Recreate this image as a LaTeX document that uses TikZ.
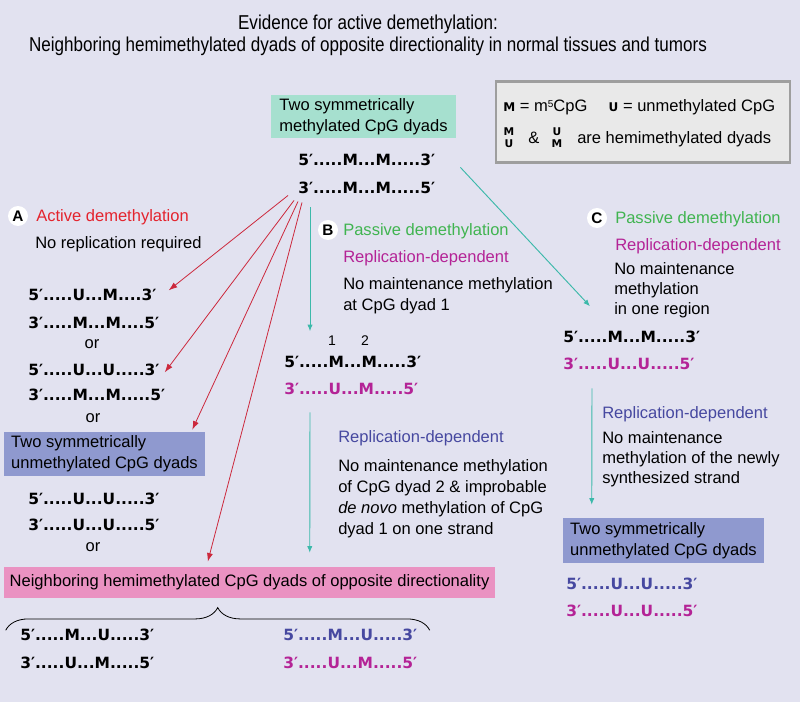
\documentclass[tikz,border=0pt]{standalone}
\usepackage{fontspec}
\setmainfont{Liberation Sans}
\newfontfamily\seqfont{DejaVu Sans}
\newfontfamily\titlefont{Liberation Sans}[FakeStretch=0.85]
\usetikzlibrary{arrows.meta,calc,decorations.pathreplacing}
\tikzset{inner sep=0pt}

\definecolor{bglav}{RGB}{226,226,240}
\definecolor{boxteal}{RGB}{166,224,207}
\definecolor{boxblue}{RGB}{143,153,207}
\definecolor{boxpink}{RGB}{234,146,194}
\definecolor{actred}{RGB}{228,35,45}
\definecolor{arrred}{RGB}{204,40,60}
\definecolor{pasgreen}{RGB}{64,180,80}
\definecolor{repmag}{RGB}{180,35,150}
\definecolor{repblue}{RGB}{70,72,160}
\definecolor{arrteal}{RGB}{60,185,170}
\definecolor{legfill}{RGB}{233,233,233}

\newcommand\legletter{\seqfont\bfseries\fontsize{9}{10}\selectfont}
\newcommand\supfive{\raisebox{0.55ex}{\fontsize{7.5}{8}\selectfont 5}}

\begin{document}
\begin{tikzpicture}[x=0.75pt,y=-0.75pt,
    txt/.style={font=\fontsize{12.4}{15.75}\selectfont, anchor=base west},
    para/.style={font=\fontsize{12.4}{15.75}\selectfont, align=left, anchor=north west},
    seq/.style={font=\seqfont\bfseries\fontsize{11.6}{14}\selectfont, anchor=base west},
    stack/.style={font=\seqfont\bfseries\fontsize{8}{9}\selectfont, align=center},
    letter/.style={circle, fill=white, minimum size=15pt, font=\bfseries\fontsize{11.5}{12}\selectfont},
    dyadbox/.style={align=left, font=\fontsize{12.4}{15.75}\selectfont},
    legendbox/.style={fill=legfill, draw=black!38, line width=2pt},
    redarrow/.style={draw=arrred, line width=0.6pt, -{Latex[length=6.5pt,width=4.5pt]}},
    tealarrow/.style={draw=arrteal, line width=0.7pt, -{Latex[length=5pt,width=4pt]}}]
    \useasboundingbox (0,0) rectangle (800,702);
    \fill[bglav] (0,0) rectangle (800,702);

    % heading and key
    \node[font=\titlefont\fontsize{15.05}{16.5}\selectfont, align=center] (title) at (368,35)
        {Evidence for active demethylation:\\Neighboring hemimethylated dyads of opposite directionality in normal tissues and tumors};
    \node[legendbox, minimum width=220.5pt, minimum height=60.75pt] (legend) at (643,122) {};
    \node[txt] (legrow) at (503,112) {{\legletter M} = m\supfive CpG\hspace{16pt}{\legletter U} = unmethylated CpG};
    \node[stack] (legMU) at (509,138) {M\\U};
    \node[txt] (legamp) at (528,144) {\&};
    \node[stack] (legUM) at (557,138) {U\\M};
    \node[txt] (leghemi) at (577,144) {are hemimethylated dyads};

    % starting dyads
    \node[dyadbox, fill=boxteal, minimum width=138.75pt, minimum height=32.25pt] (topbox) at (363.5,116.5)
        {Two symmetrically\\methylated CpG dyads};
    \node[seq] (topfive) at (298,166) {5′.....M...M.....3′};
    \node[seq] (topthree) at (298,194) {3′.....M...M.....5′};

    % A: active
    \node[letter] (labA) at (18,216) {A};
    \node[txt, text=actred] (headA) at (36,222) {Active demethylation};
    \node[txt] (noteA) at (35,249) {No replication required};
    \node[seq] (rowAa5) at (28,301) {5′.....U...M....3′};
    \node[seq] (rowAa3) at (28,329) {3′.....M...M....5′};
    \node[txt, anchor=base] (orA1) at (92,349) {or};
    \node[seq] (rowAb5) at (28,375) {5′.....U...U.....3′};
    \node[seq] (rowAb3) at (28,401) {3′.....M...M.....5′};
    \node[txt, anchor=base] (orA2) at (93,422) {or};
    \node[dyadbox, fill=boxblue, minimum width=150.75pt, minimum height=33pt] (boxA) at (104.5,454)
        {Two symmetrically\\unmethylated CpG dyads};
    \node[seq] (rowAc5) at (28,504) {5′.....U...U.....3′};
    \node[seq] (rowAc3) at (28,530) {3′.....U...U.....5′};
    \node[txt, anchor=base] (orA3) at (93,551) {or};
    \node[dyadbox, fill=boxpink, minimum width=368.25pt, minimum height=23.25pt] (hemibox) at (249.5,582.5)
        {Neighboring hemimethylated CpG dyads of opposite directionality};
    \node[seq] (rowD5) at (20,640) {5′.....M...U.....3′};
    \node[seq] (rowD3) at (20,668) {3′.....U...M.....5′};
    \node[seq, text=repblue] (rowE5) at (283,640) {5′.....M...U.....3′};
    \node[seq, text=repmag] (rowE3) at (283,668) {3′.....U...M.....5′};

    % B: passive, two rounds
    \node[letter] (labB) at (328,230) {B};
    \node[txt, text=pasgreen] (headB) at (343,236) {Passive demethylation};
    \node[txt, text=repmag] (repB) at (343,263) {Replication-dependent};
    \node[para] (noteB) at (343,277) {No maintenance methylation\\at CpG dyad 1};
    \node[txt, anchor=base, font=\fontsize{10.5}{12}\selectfont] (numOne) at (332,345) {1};
    \node[txt, anchor=base, font=\fontsize{10.5}{12}\selectfont] (numTwo) at (365,345) {2};
    \node[seq] (rowB5) at (284,368) {5′.....M...M.....3′};
    \node[seq, text=repmag] (rowB3) at (284,394) {3′.....U...M.....5′};
    \node[txt, text=repblue] (repB2) at (338,442) {Replication-dependent};
    \node[para] (noteB2) at (338,459) {No maintenance methylation\\of CpG dyad 2 \& improbable\\\textit{de novo} methylation of CpG\\dyad 1 on one strand};

    % C: passive, whole region
    \node[letter] (labC) at (597,218) {C};
    \node[txt, text=pasgreen] (headC) at (615,224) {Passive demethylation};
    \node[txt, text=repmag] (repC) at (615,251) {Replication-dependent};
    \node[para, font=\fontsize{12.4}{15}\selectfont] (noteC) at (614,262) {No maintenance\\methylation\\in one region};
    \node[seq] (rowC5) at (563,343) {5′.....M...M.....3′};
    \node[seq, text=repmag] (rowC3) at (563,369) {3′.....U...U.....5′};
    \node[txt, text=repblue] (repC2) at (602,418) {Replication-dependent};
    \node[para, font=\fontsize{12.4}{15}\selectfont] (noteC2) at (602,431) {No maintenance\\methylation of the newly\\synthesized strand};
    \node[dyadbox, fill=boxblue, minimum width=150.75pt, minimum height=33.75pt] (boxC) at (663.5,540.5)
        {Two symmetrically\\unmethylated CpG dyads};
    \node[seq, text=repblue] (rowF5) at (566,589) {5′.....U...U.....3′};
    \node[seq, text=repmag] (rowF3) at (566,616) {3′.....U...U.....5′};

    % arrows
    \draw[redarrow] ($(topthree.south west)+(-10,1)$) -- ($(rowAa5.east)+(12,-5)$);
    \draw[redarrow] ($(topthree.south west)+(-4,6)$) -- ($(rowAb5.east)+(5,3)$);
    \draw[redarrow] ($(topthree.south west)+(0,7)$) -- ($(boxA.north east)+(-13,-2)$);
    \draw[redarrow] ($(topthree.south west)+(4,8)$) -- ($(hemibox.north west)+(204,-5)$);
    \draw[tealarrow] ($(topthree.south west)+(12,13)$) -- ($(rowB5.north west)+(26,-25)$);
    \draw[tealarrow] ($(rowB3.south west)+(26,18)$) -- ($(hemibox.north west)+(306,-14)$);
    \draw[tealarrow] ($(topfive.east)+(25,7)$) -- ($(rowC5.north west)+(27,-25)$);
    \draw[tealarrow] ($(rowC3.south west)+(29,19)$) -- ($(boxC.north west)+(29,-13)$);
    \draw[decorate, decoration={brace, amplitude=17pt}, line width=0.6pt]
        ($(hemibox.south west)+(2,32)$) -- ($(hemibox.south west)+(426,32)$);
\end{tikzpicture}
\end{document}
